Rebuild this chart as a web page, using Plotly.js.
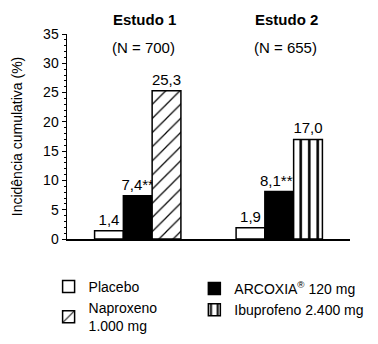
<!DOCTYPE html>
<html>
<head>
<meta charset="utf-8">
<script src="https://cdn.plot.ly/plotly-3.0.1.min.js"></script>
<style>
html,body{margin:0;padding:0;background:#fff;}
#chart{width:378px;height:344px;}
</style>
</head>
<body>
<div id="chart"></div>
<script>
// ---- data ----
var studies = ["Estudo 1", "Estudo 2"];
var studyN = ["(N = 700)", "(N = 655)"];
var placebo = [1.4, 1.9];
var placeboStars = ["", ""];
var arcoxia = [7.4, 8.1];
var arcoxiaStars = ["**", "***"];
var naproxenoStudy = ["Estudo 1"];
var naproxeno = [25.3];
var ibuprofenoStudy = ["Estudo 2"];
var ibuprofeno = [17.0];
var seriesNames = ["Placebo", "ARCOXIA<sup>®</sup> 120 mg", "Naproxeno<br>1.000 mg", "Ibuprofeno 2.400 mg"];
var yTitle = "Incidência cumulativa (%)";

function fmt(v, stars) {
  return v.toFixed(1).replace(".", ",") + (stars || "");
}

var FONT = "Liberation Sans, Arial, sans-serif";
var lineStyle = {color: "#000", width: 1.5};
var textFont = {family: FONT, size: 15, color: "#000"};

function barTrace(name, x, y, stars, group, legend, marker) {
  return {
    type: "bar", name: name, x: x, y: y, offsetgroup: group, legend: legend,
    text: y.map(function (v, i) { return fmt(v, stars ? stars[i] : ""); }),
    textposition: "outside", textfont: textFont, cliponaxis: false,
    constraintext: "none",
    marker: marker, hoverinfo: "skip"
  };
}

var traces = [
  barTrace(seriesNames[0], studies, placebo, placeboStars, "a", "legend",
    {color: "#fff", line: lineStyle}),
  barTrace(seriesNames[1], studies, arcoxia, arcoxiaStars, "b", "legend2",
    {color: "#000", line: lineStyle}),
  barTrace(seriesNames[2], naproxenoStudy, naproxeno, null, "c", "legend",
    {color: "#fff", line: lineStyle,
     pattern: {shape: "/", fgcolor: "#000", bgcolor: "#fff", size: 10, solidity: 0.12}}),
  barTrace(seriesNames[3], ibuprofenoStudy, ibuprofeno, null, "c", "legend2",
    {color: "#fff", line: lineStyle,
     pattern: {shape: "|", fgcolor: "#000", bgcolor: "#fff", size: 8.5, solidity: 0.3}})
];

var annotations = [];
studies.forEach(function (s, i) {
  annotations.push({
    xref: "x", yref: "paper", x: s, y: 1, yshift: 15, xshift: 7,
    text: "<b>" + s + "</b>", showarrow: false,
    font: {family: FONT, size: 15, color: "#000"}, yanchor: "middle"
  });
  annotations.push({
    xref: "x", yref: "paper", x: s, y: 1, yshift: -13, xshift: 6,
    text: studyN[i], showarrow: false,
    font: {family: FONT, size: 15, color: "#000"}, yanchor: "middle"
  });
});

var legendFont = {family: FONT, size: 14, color: "#000"};

var layout = {
  width: 378, height: 344,
  margin: {l: 67, r: 28, t: 34, b: 105, autoexpand: false},
  paper_bgcolor: "#fff", plot_bgcolor: "#fff",
  font: {family: FONT, size: 14, color: "#000"},
  barmode: "group", bargap: 0.39, bargroupgap: 0,
  showlegend: true,
  legend: {
    orientation: "v", x: -0.065, y: -0.155, xanchor: "left", yanchor: "top",
    font: legendFont, traceorder: "normal", valign: "middle",
    bgcolor: "rgba(0,0,0,0)"
  },
  legend2: {
    orientation: "v", x: 0.45, y: -0.165, xanchor: "left", yanchor: "top",
    font: legendFont, traceorder: "normal", valign: "middle",
    bgcolor: "rgba(0,0,0,0)"
  },
  xaxis: {
    type: "category", range: [-0.5, 1.5],
    showline: true, linecolor: "#000", linewidth: 1.5,
    showticklabels: false, ticks: "", showgrid: false, zeroline: false,
    fixedrange: true
  },
  yaxis: {
    range: [0, 35], dtick: 5, tick0: 0,
    showline: true, linecolor: "#000", linewidth: 1.5,
    ticks: "outside", ticklen: 4, tickwidth: 1, tickcolor: "#000",
    minor: {dtick: 1, ticks: "outside", ticklen: 2, tickcolor: "#000", tickwidth: 1},
    showgrid: false, zeroline: false,
    tickfont: {family: FONT, size: 14, color: "#000"},
    title: {text: yTitle, font: {family: FONT, size: 14, color: "#000"}, standoff: 17},
    fixedrange: true
  },
  annotations: annotations
};

Plotly.newPlot("chart", traces, layout, {displayModeBar: false, staticPlot: true});
</script>
</body>
</html>
